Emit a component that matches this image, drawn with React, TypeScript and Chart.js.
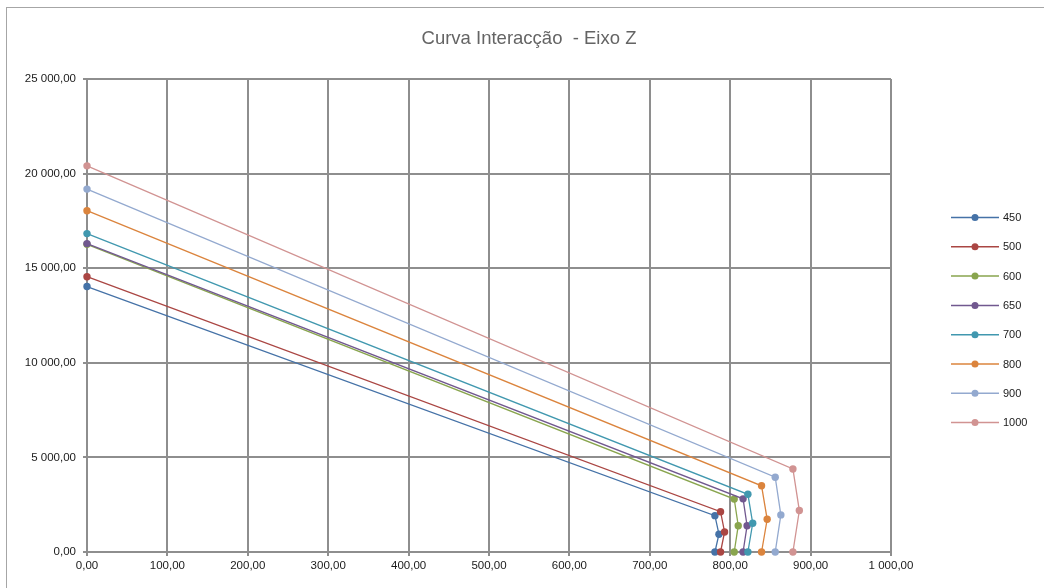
import React, { useEffect, useRef } from "react";
import { Chart, registerables } from "chart.js";

Chart.register(...registerables);

const seriesLabels = ["450", "500", "600", "650", "700", "800", "900", "1000"];
const seriesColors = ["#4572A7", "#AA4643", "#89A54E", "#71588F", "#4198AF", "#DB843D", "#93A9CF", "#D19392"];

// Each series: top point (M=0), knee, mid, bottom (N=0)
const xM450 = [0, 781, 786, 781];
const yN450 = [14030, 1920, 940, 0];
const xM500 = [0, 788, 793, 788];
const yN500 = [14550, 2130, 1060, 0];
const xM600 = [0, 805, 810, 805];
const yN600 = [16260, 2800, 1390, 0];
const xM650 = [0, 816, 821, 816];
const yN650 = [16300, 2810, 1390, 0];
const xM700 = [0, 822, 828, 822];
const yN700 = [16830, 3050, 1520, 0];
const xM800 = [0, 839, 846, 839];
const yN800 = [18040, 3500, 1730, 0];
const xM900 = [0, 856, 863, 856];
const yN900 = [19180, 3950, 1960, 0];
const xM1000 = [0, 878, 886, 878];
const yN1000 = [20410, 4390, 2190, 0];

const xSeries = [xM450, xM500, xM600, xM650, xM700, xM800, xM900, xM1000];
const ySeries = [yN450, yN500, yN600, yN650, yN700, yN800, yN900, yN1000];

const titleText = "Curva Interacção  - Eixo Z";

function fmt(v: number): string {
  const s = Math.abs(v).toFixed(2);
  const [i, d] = s.split(".");
  return (v < 0 ? "-" : "") + i.replace(/\B(?=(\d{3})+(?!\d))/g, " ") + "," + d;
}

const FONT = "'Liberation Sans', Arial, sans-serif";
const GRID = "#8e8e8e";

const customPlugin = {
  id: "customDecor",
  afterDraw(chart: any) {
    const ctx = chart.ctx;
    ctx.save();
    // title
    ctx.fillStyle = "#646464";
    ctx.font = `18.5px ${FONT}`;
    ctx.textAlign = "center";
    ctx.textBaseline = "middle";
    ctx.fillText(titleText, 529, 39);
    // legend
    const ds = chart.data.datasets;
    ctx.font = `11px ${FONT}`;
    ctx.textAlign = "left";
    for (let i = 0; i < ds.length; i++) {
      const y = 217.5 + i * 29.3;
      ctx.strokeStyle = ds[i].borderColor;
      ctx.lineWidth = 1.5;
      ctx.beginPath();
      ctx.moveTo(951, y);
      ctx.lineTo(999, y);
      ctx.stroke();
      ctx.fillStyle = ds[i].borderColor;
      ctx.beginPath();
      ctx.arc(975, y, 3.5, 0, Math.PI * 2);
      ctx.fill();
      ctx.fillStyle = "#1a1a1a";
      ctx.fillText(ds[i].label, 1003, y + 0.5);
    }
    ctx.restore();
  },
};

export default function App() {
  const ref = useRef<HTMLCanvasElement | null>(null);
  useEffect(() => {
    if (!ref.current) return;
    const datasets = seriesLabels.map((lab, i) => ({
      label: lab,
      data: xSeries[i].map((x, j) => ({ x, y: ySeries[i][j] })),
      borderColor: seriesColors[i],
      backgroundColor: seriesColors[i],
      borderWidth: 1.3,
      pointRadius: 3.7,
      pointBorderWidth: 0,
      pointBackgroundColor: seriesColors[i],
      showLine: true,
      tension: 0,
      clip: false,
      order: -i,
    }));
    const chart = new Chart(ref.current, {
      type: "scatter",
      data: { datasets },
      options: {
        responsive: false,
        animation: false,
        devicePixelRatio: 1,
        layout: { padding: { left: 0, top: 79, right: 153, bottom: 0 } },
        plugins: {
          legend: { display: false },
          title: { display: false },
          tooltip: { enabled: false },
        },
        scales: {
          x: {
            type: "linear",
            min: 0,
            max: 1000,
            ticks: {
              stepSize: 100,
              callback: (v: any) => fmt(Number(v)),
              color: "#1a1a1a",
              font: { family: FONT, size: 11.5 },
              padding: 3,
              maxRotation: 0,
            },
            grid: { color: GRID, lineWidth: 2, tickLength: 4 },
            border: { color: GRID, width: 2 },
            afterFit: (s: any) => {
              s.height = 36;
            },
          },
          y: {
            type: "linear",
            min: 0,
            max: 25000,
            ticks: {
              stepSize: 5000,
              callback: (v: any) => fmt(Number(v)),
              color: "#1a1a1a",
              font: { family: FONT, size: 11.5 },
              padding: 7,
            },
            grid: { color: GRID, lineWidth: 2, tickLength: 4 },
            border: { color: GRID, width: 2 },
            afterFit: (s: any) => {
              s.width = 87;
            },
          },
        },
      },
      plugins: [customPlugin],
    } as any);
    return () => chart.destroy();
  }, []);

  return (
    <div
      style={{
        position: "fixed",
        left: 0,
        top: 0,
        width: 1044,
        height: 588,
        overflow: "hidden",
        background: "#fff",
      }}
    >
      <div
        style={{
          position: "absolute",
          left: 6,
          top: 7,
          width: 1200,
          height: 800,
          border: "1px solid #a6a6a6",
        }}
      />
      <canvas
        ref={ref}
        width={1044}
        height={588}
        style={{ position: "absolute", left: 0, top: 0, width: 1044, height: 588 }}
      />
    </div>
  );
}
